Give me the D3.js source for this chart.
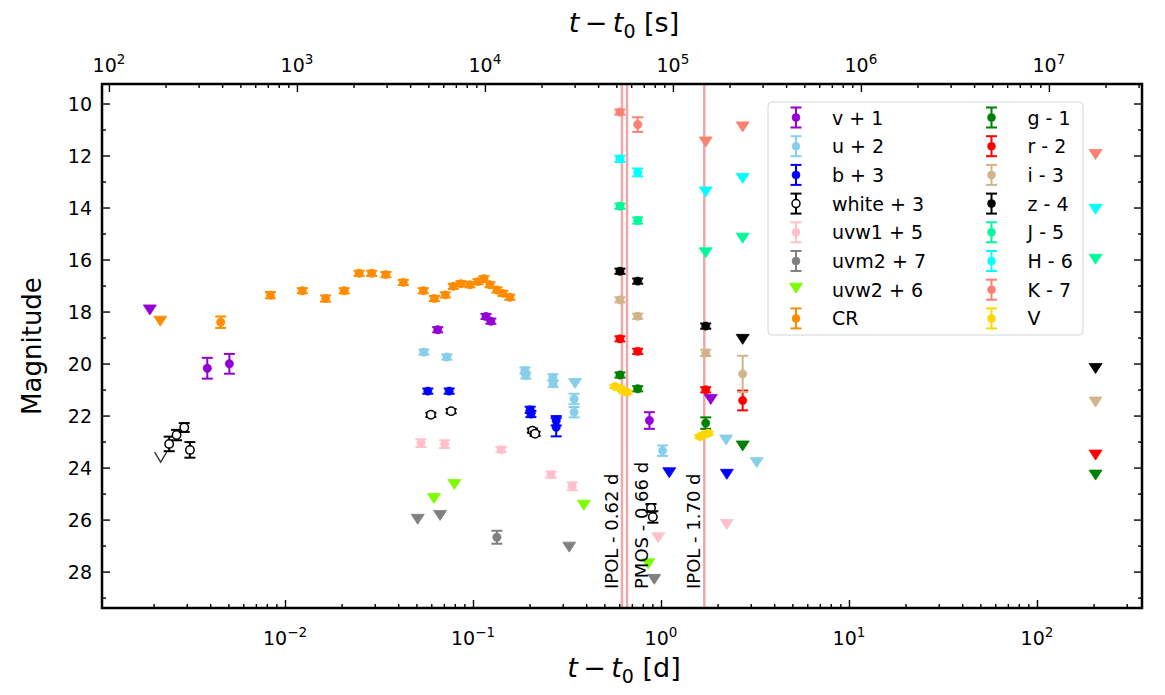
<!DOCTYPE html>
<html><head><meta charset="utf-8">
<script src="https://cdn.jsdelivr.net/npm/d3@7"></script>
<style>body{margin:0;background:#fff} text{font-family:"DejaVu Sans",sans-serif;fill:#000}</style>
</head><body>
<svg id="c" width="1165" height="695"></svg>
<script>
// ---------- DATA (t - t0 in days, magnitude, error) ----------
const vDet = [[0.00386,20.18,0.40],[0.00506,20.01,0.38],[0.0649,18.70,0.10],[0.1173,18.19,0.10],[0.1245,18.37,0.10],[0.868,22.19,0.32]];
const vLim = [[0.00191,17.92],[1.84,21.36]];
const uDet = [[0.0548,19.56,0.10],[0.0726,19.75,0.10],[0.189,20.27,0.12],[0.191,20.46,0.12],[0.266,20.53,0.12],[0.267,20.78,0.12],[0.345,21.36,0.20],[0.345,21.87,0.20],[1.02,23.35,0.20]];
const uLim = [[0.349,20.75],[2.22,22.92],[3.23,23.79]];
const bDet = [[0.0575,21.06,0.10],[0.0747,21.06,0.10],[0.2015,21.78,0.12],[0.2033,21.94,0.12],[0.277,22.20,0.18],[0.277,22.45,0.35]];
const bLim = [[1.107,24.18],[2.24,24.24]];
const whiteDet = [[0.00242,23.09,0.28],[0.00265,22.75,0.20],[0.00291,22.46,0.17],[0.00312,23.32,0.30],[0.0597,21.97,0.08],[0.0765,21.83,0.08],[0.207,22.58,0.08],[0.214,22.70,0.08],[0.885,25.55,0.15],[0.905,25.90,0.22]];
const whiteLim = [[0.00218,23.60]];
const uvw1Det = [[0.0529,23.06,0.15],[0.0707,23.10,0.15],[0.141,23.31,0.10],[0.260,24.27,0.12],[0.337,24.72,0.15]];
const uvw1Lim = [[0.967,26.68],[2.24,26.17]];
const uvm2Det = [[0.134,26.68,0.25]];
const uvm2Lim = [[0.0508,25.97],[0.0668,25.82],[0.325,27.04],[0.921,28.28]];
const uvw2Det = [];
const uvw2Lim = [[0.062,25.17],[0.0796,24.63],[0.389,25.43],[0.856,27.68]];
const crDet = [[0.00455,18.41,0.22],[0.00836,17.37,0.12],[0.01236,17.20,0.10],[0.01644,17.50,0.12],[0.02065,17.20,0.10],[0.0248,16.53,0.10],[0.0289,16.53,0.10],[0.0344,16.58,0.10],[0.0426,16.88,0.10],[0.0544,17.20,0.10],[0.0623,17.50,0.10],[0.0712,17.36,0.10],[0.0786,17.03,0.10],[0.0863,16.93,0.10],[0.0964,16.97,0.10],[0.1063,16.85,0.10],[0.1144,16.74,0.10],[0.1231,16.97,0.10],[0.1341,17.17,0.10],[0.1442,17.30,0.10],[0.1570,17.45,0.10]];
const crLim = [[0.00217,18.35]];
const gDet = [[0.605,20.44,0.10],[0.752,20.97,0.10],[1.73,22.29,0.22]];
const gLim = [[2.72,23.15],[205,24.27]];
const rDet = [[0.605,19.05,0.10],[0.752,19.53,0.10],[1.73,21.01,0.10],[2.72,21.42,0.38]];
const rLim = [[205,23.50]];
const iDet = [[0.605,17.55,0.10],[0.752,18.18,0.10],[1.73,19.59,0.12],[2.72,20.40,0.70]];
const iLim = [[205,21.46]];
const zDet = [[0.605,16.45,0.10],[0.752,16.83,0.10],[1.73,18.56,0.10]];
const zLim = [[2.72,19.05],[205,20.17]];
const jDet = [[0.605,13.95,0.10],[0.752,14.50,0.12]];
const jLim = [[1.73,15.72],[2.72,15.16],[205,15.97]];
const hDet = [[0.605,12.13,0.12],[0.752,12.65,0.15]];
const hLim = [[1.73,13.38],[2.72,12.86],[205,14.05]];
const kDet = [[0.605,10.33,0.10],[0.752,10.81,0.28]];
const kLim = [[1.73,11.46],[2.72,10.88],[205,11.94]];
const VDet = [[0.569,20.88,0.06],[0.605,20.95,0.06],[0.632,21.06,0.06],[0.660,21.10,0.06],[1.61,22.81,0.06],[1.70,22.73,0.06],[1.78,22.68,0.06]];
const VLim = [];

const seriesLabels = ["v + 1","u + 2","b + 3","white + 3","uvw1 + 5","uvm2 + 7","uvw2 + 6","CR","g - 1","r - 2","i - 3","z - 4","J - 5","H - 6","K - 7","V"];
const seriesColors = ["#9400d3","#87ceeb","#0000ff","#000000","#ffc0cb","#808080","#7cfc00","#ff8c00","#008000","#ff0000","#d2b48c","#000000","#00fa9a","#00ffff","#fa8072","#ffd700"];
const seriesDet = [vDet,uDet,bDet,whiteDet,uvw1Det,uvm2Det,uvw2Det,crDet,gDet,rDet,iDet,zDet,jDet,hDet,kDet,VDet];
const seriesLim = [vLim,uLim,bLim,whiteLim,uvw1Lim,uvm2Lim,uvw2Lim,crLim,gLim,rLim,iLim,zLim,jLim,hLim,kLim,VLim];

const spectra = [{t:0.62,label:"IPOL - 0.62 d",dx:-4},{t:0.66,label:"PMOS - 0.66 d",dx:21},{t:1.70,label:"IPOL - 1.70 d",dx:-4}];

const xDomainDays = [0.001063, 362];
const yDomain = [9.25, 29.4];
const yTicks = [10,12,14,16,18,20,22,24,26,28];
const yMinor = [11,13,15,17,19,21,23,25,27,29];
const bottomExps = [-2,-1,0,1,2];
const topExps = [2,3,4,5,6,7];
const SEC_PER_DAY = 86400;

// ---------- LAYOUT ----------
const L = 102, R = 1142, T = 84, B = 608;
const FS = 19;
const svg = d3.select("#c");
const x = d3.scaleLog().domain(xDomainDays).range([L, R]);
const xs = d3.scaleLog().domain(xDomainDays.map(d => d*SEC_PER_DAY)).range([L, R]);
const y = d3.scaleLinear().domain(yDomain).range([T, B]);

function minorsLog(dom) {
  const out = [];
  const lo = Math.floor(Math.log10(dom[0])), hi = Math.ceil(Math.log10(dom[1]));
  for (let k = lo; k <= hi; k++) for (let m = 2; m <= 9; m++) {
    const v = m*Math.pow(10,k); if (v >= dom[0] && v <= dom[1]) out.push(v);
  }
  return out;
}

const gAx = svg.append("g");
function styleAxis(g){ g.select(".domain").remove(); g.selectAll("line").attr("stroke","#000").attr("stroke-width",1.4); g.selectAll("text").remove(); }

gAx.append("g").attr("transform",`translate(0,${B})`).call(d3.axisBottom(x).tickValues(bottomExps.map(e=>Math.pow(10,e))).tickSize(-8)).call(styleAxis);
gAx.append("g").attr("transform",`translate(0,${B})`).call(d3.axisBottom(x).tickValues(minorsLog(x.domain())).tickSize(-4)).call(styleAxis);
gAx.append("g").attr("transform",`translate(0,${T})`).call(d3.axisTop(xs).tickValues(topExps.map(e=>Math.pow(10,e))).tickSize(-8)).call(styleAxis);
gAx.append("g").attr("transform",`translate(0,${T})`).call(d3.axisTop(xs).tickValues(minorsLog(xs.domain())).tickSize(-4)).call(styleAxis);
gAx.append("g").attr("transform",`translate(${L},0)`).call(d3.axisLeft(y).tickValues(yTicks).tickSize(-8)).call(styleAxis);
gAx.append("g").attr("transform",`translate(${L},0)`).call(d3.axisLeft(y).tickValues(yMinor.filter(v=>v<=yDomain[1])).tickSize(-4)).call(styleAxis);
gAx.append("g").attr("transform",`translate(${R},0)`).call(d3.axisRight(y).tickValues(yTicks).tickSize(-8)).call(styleAxis);
gAx.append("g").attr("transform",`translate(${R},0)`).call(d3.axisRight(y).tickValues(yMinor.filter(v=>v<=yDomain[1])).tickSize(-4)).call(styleAxis);

function powLabel(px, py, e) {
  const t = svg.append("text").attr("x",px).attr("y",py).attr("text-anchor","middle").attr("font-size",FS);
  t.append("tspan").text("10");
  t.append("tspan").attr("dy",-8).attr("font-size",13.5).text(e<0 ? "\u2212"+(-e) : String(e));
}
bottomExps.forEach(e => powLabel(x(Math.pow(10,e)), 645, e));
topExps.forEach(e => powLabel(xs(Math.pow(10,e)), 72, e));
yTicks.forEach(v => svg.append("text").attr("x",92).attr("y",y(v)+7).attr("text-anchor","end").attr("font-size",FS).text(v));

function tLabel(cx, cy, unit) {
  const t = svg.append("text").attr("x",cx).attr("y",cy).attr("text-anchor","middle").attr("font-size",27);
  t.append("tspan").attr("font-style","italic").text("t");
  t.append("tspan").text("\u2009\u2212\u2009");
  t.append("tspan").attr("font-style","italic").text("t");
  t.append("tspan").attr("font-size",19).attr("dy",6).text("0");
  t.append("tspan").attr("dy",-6).text(" [" + unit + "]");
}
tLabel(624, 32, "s");
tLabel(624, 677, "d");
svg.append("text").attr("transform",`translate(41,${(T+B)/2}) rotate(-90)`).attr("text-anchor","middle").attr("font-size",26).text("Magnitude");

const clipG = svg.append("g");

spectra.forEach(s => {
  clipG.append("line").attr("x1",x(s.t)).attr("x2",x(s.t)).attr("y1",T).attr("y2",B)
    .attr("stroke","#d9534f").attr("stroke-opacity",0.5).attr("stroke-width",2.5);
  svg.append("text").attr("transform",`translate(${x(s.t)+s.dx},589) rotate(-90)`)
    .attr("font-size",18).text(s.label);
});

const triPath = "M-6.5,-4.5L6.5,-4.5L0,5.5Z";
const openV = "M-6,-5L0,5L6,-5";

seriesLabels.forEach((lab, i) => {
  const col = seriesColors[i];
  const isWhite = lab.startsWith("white");
  const g = clipG.append("g");
  seriesLim[i].forEach(p => {
    if (isWhite) {
      g.append("path").attr("d",openV).attr("transform",`translate(${x(p[0])},${y(p[1])})`)
        .attr("fill","none").attr("stroke","#333").attr("stroke-width",1.3);
    } else {
      g.append("path").attr("d",triPath).attr("transform",`translate(${x(p[0])},${y(p[1])})`).attr("fill",col).attr("stroke",col).attr("stroke-width",0.8);
    }
  });
  seriesDet[i].forEach(p => {
    const cx = x(p[0]), y1 = y(p[1]-p[2]), y2 = y(p[1]+p[2]);
    g.append("line").attr("x1",cx).attr("x2",cx).attr("y1",y1).attr("y2",y2).attr("stroke",col).attr("stroke-width",2);
    [y1,y2].forEach(yy => g.append("line").attr("x1",cx-5.5).attr("x2",cx+5.5).attr("y1",yy).attr("y2",yy).attr("stroke",col).attr("stroke-width",2));
    g.append("circle").attr("cx",cx).attr("cy",y(p[1])).attr("r",4.2)
      .attr("fill", isWhite ? "#fff" : col).attr("stroke", col).attr("stroke-width", isWhite ? 1.5 : 0.5);
  });
});

svg.append("rect").attr("x",L).attr("y",T).attr("width",R-L).attr("height",B-T).attr("fill","none").attr("stroke","#000").attr("stroke-width",2.5);

const lg = svg.append("g");
lg.append("rect").attr("x",768).attr("y",102).attr("width",315).attr("height",233).attr("rx",4)
  .attr("fill","#fff").attr("fill-opacity",0.85).attr("stroke","#d6d6d6").attr("stroke-width",1);
seriesLabels.forEach((lab, i) => {
  const col = seriesColors[i];
  const c = Math.floor(i/8), r = i%8;
  const mx = c===0 ? 796 : 991.5, tx = c===0 ? 832 : 1027.5;
  const my = 117.5 + r*28.7;
  const isWhite = lab.startsWith("white");
  if (seriesDet[i].length === 0) {
    lg.append("path").attr("d",triPath).attr("transform",`translate(${mx},${my-2})`).attr("fill",col).attr("stroke",col).attr("stroke-width",0.8);
  } else {
    lg.append("line").attr("x1",mx).attr("x2",mx).attr("y1",my-10).attr("y2",my+10).attr("stroke",col).attr("stroke-width",2);
    [my-10,my+10].forEach(yy => lg.append("line").attr("x1",mx-5.5).attr("x2",mx+5.5).attr("y1",yy).attr("y2",yy).attr("stroke",col).attr("stroke-width",2));
    lg.append("circle").attr("cx",mx).attr("cy",my).attr("r",4).attr("fill",isWhite?"#fff":col).attr("stroke",col).attr("stroke-width",isWhite?1.5:0.5);
  }
  lg.append("text").attr("x",tx).attr("y",my+7).attr("font-size",FS).text(lab);
});
</script>
</body></html>
